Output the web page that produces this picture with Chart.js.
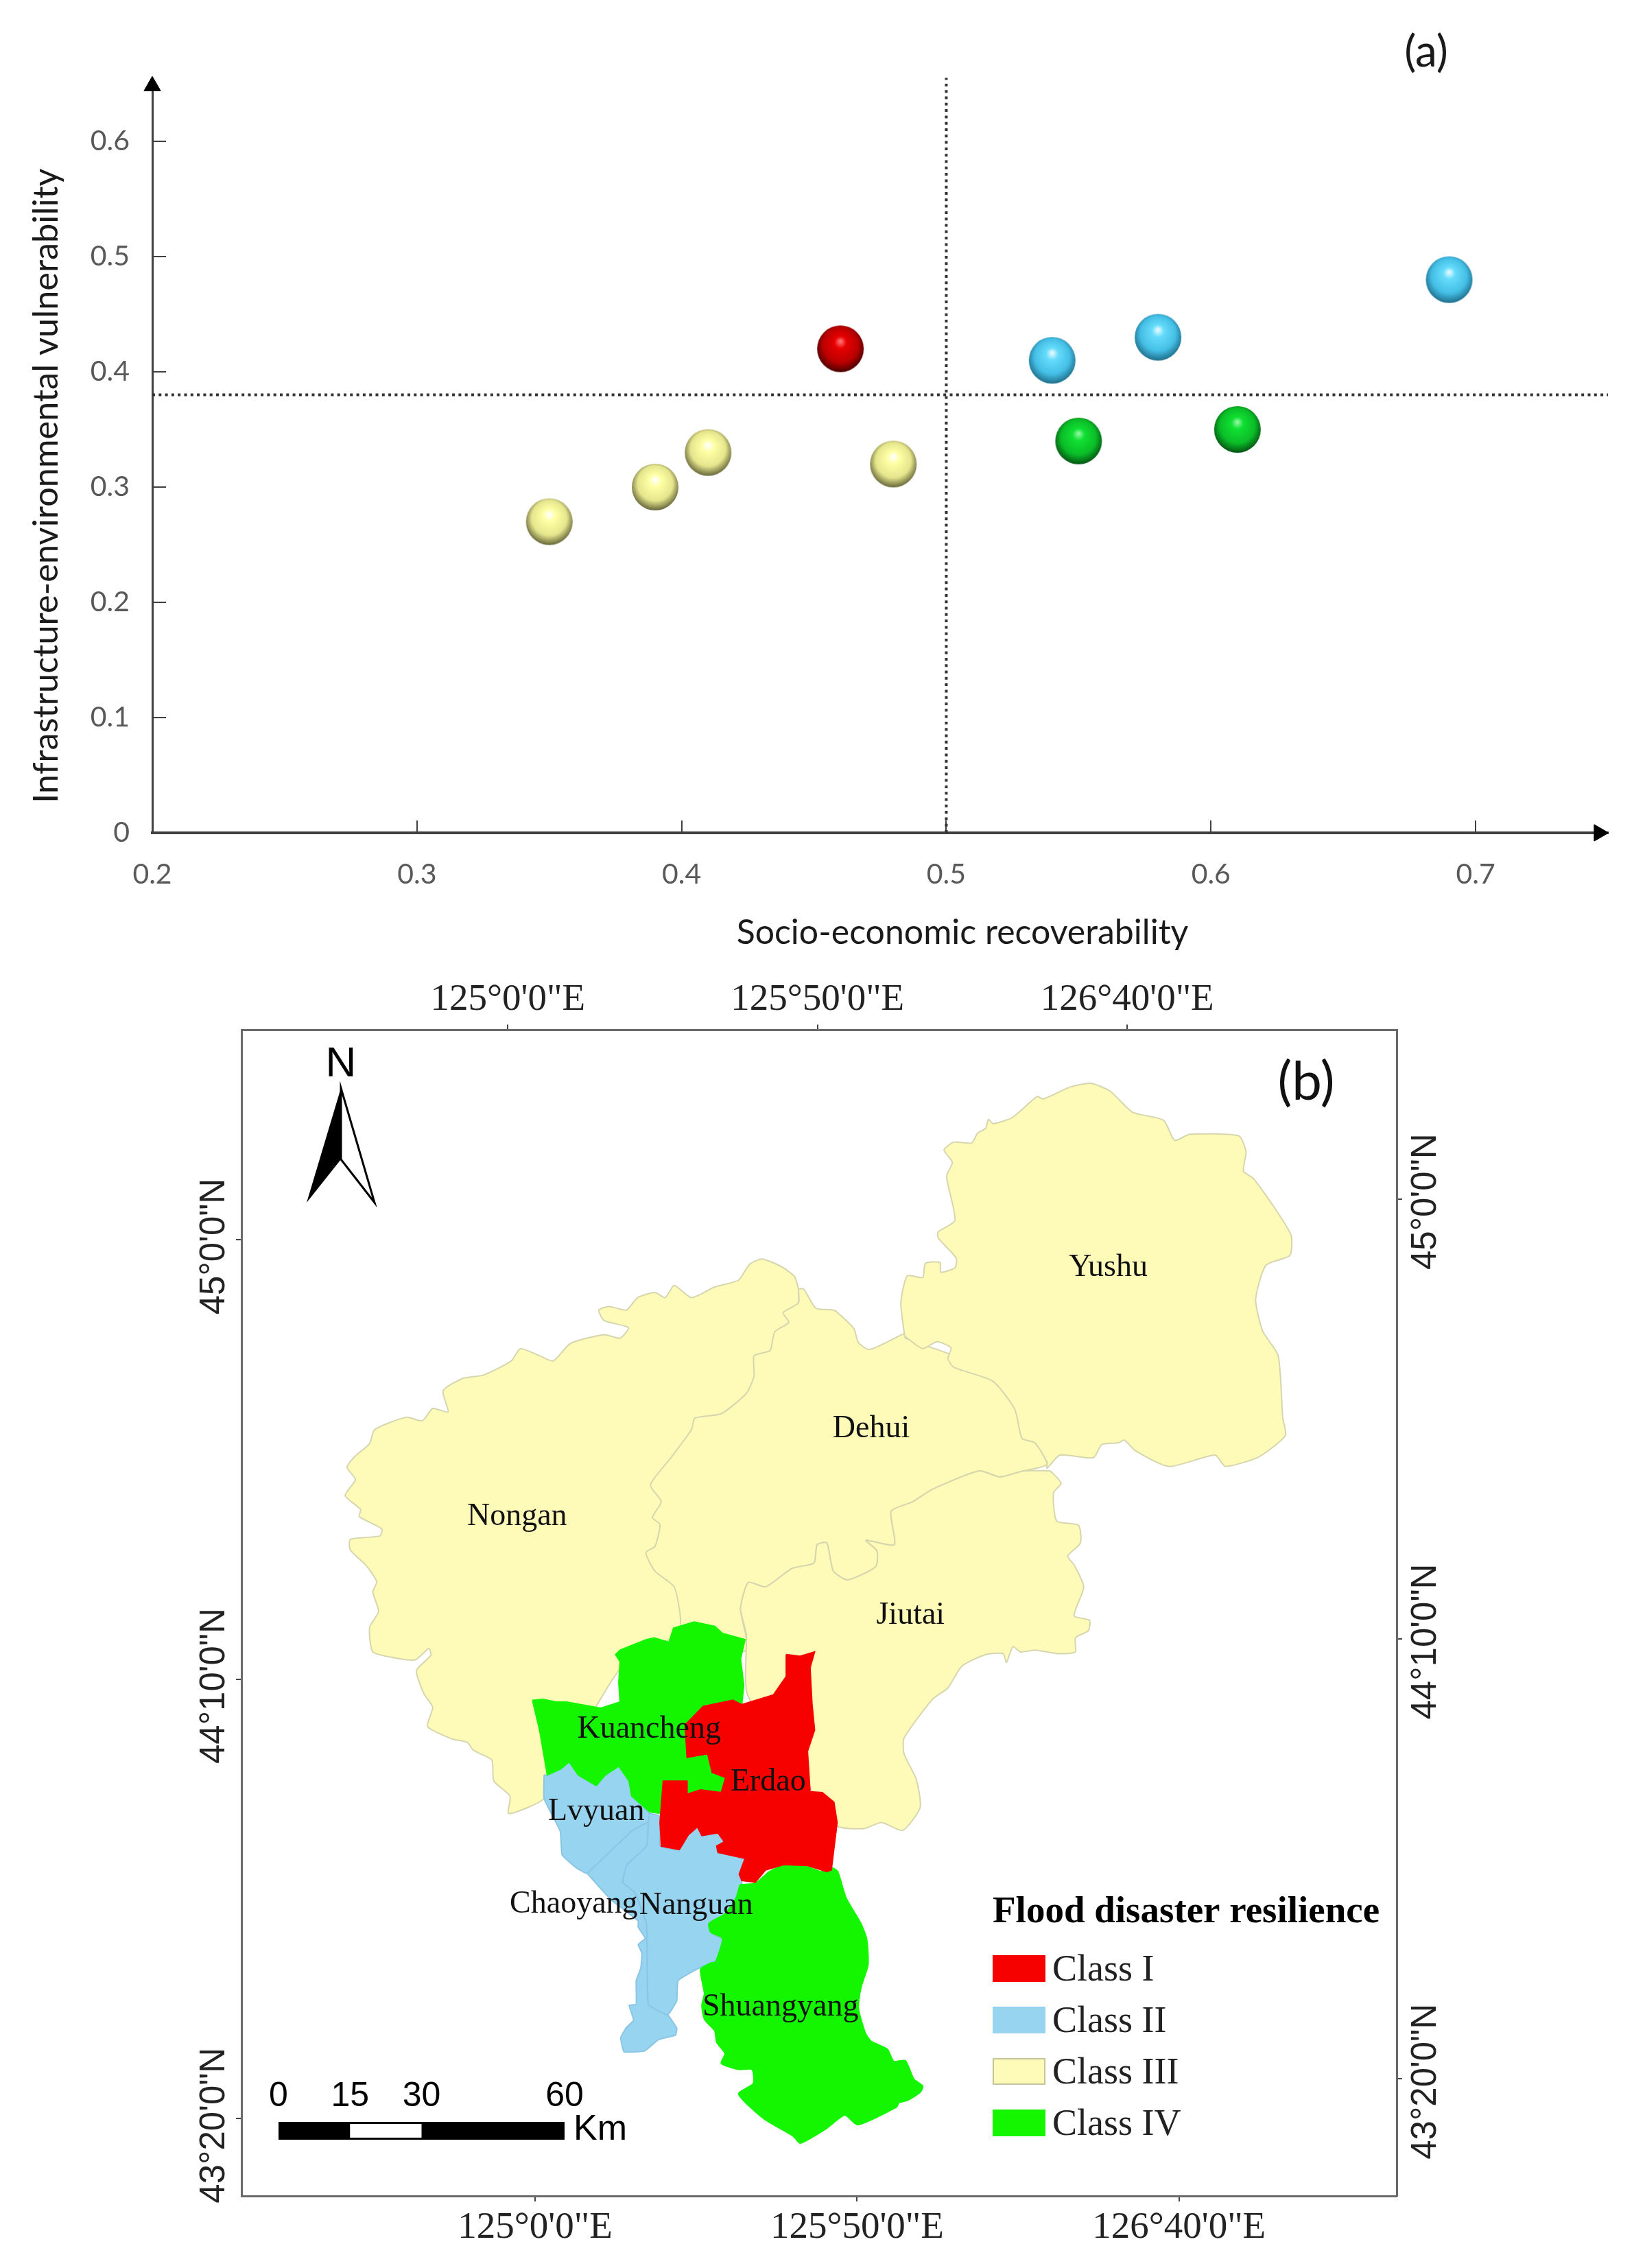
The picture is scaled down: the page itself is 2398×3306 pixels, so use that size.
<!DOCTYPE html>
<html>
<head>
<meta charset="utf-8">
<title>Flood disaster resilience</title>
<script src="https://cdn.jsdelivr.net/npm/chart.js@4"></script>
<style>
  html, body { margin: 0; padding: 0; background: #fff; }
  canvas { position: absolute; left: 0; display: block; }
  #scatter { top: 0; }
  #map { top: 1420px; }
</style>
</head>
<body>
<canvas id="scatter" width="2398" height="1420"></canvas>
<canvas id="map" width="2398" height="1886"></canvas>
<script>
// (a) districts by class: [recoverability, vulnerability]
const classOne = [[0.46, 0.42]];
const classTwo = [[0.54, 0.41], [0.58, 0.43], [0.69, 0.48]];
const classThree = [[0.35, 0.27], [0.39, 0.30], [0.41, 0.33], [0.48, 0.32]];
const classFour = [[0.55, 0.34], [0.61, 0.35]];
const xTicks = [0.2, 0.3, 0.4, 0.5, 0.6, 0.7];
const xTickLabels = ['0.2', '0.3', '0.4', '0.5', '0.6', '0.7'];
const yTicks = [0, 0.1, 0.2, 0.3, 0.4, 0.5, 0.6];
const yTickLabels = ['0', '0.1', '0.2', '0.3', '0.4', '0.5', '0.6'];
const splitX = 0.5;
const splitY = 0.38;

// (b) outlines: [arc minutes east of 125E, arc minutes from 45N]
const yushu = [[57.4,-11.0],[56.8,-7.2],[57.8,-4.1],[60.2,-4.3],[60.6,-2.7],[62.9,-2.6],[63.0,-3.7],[65.2,-3.2],[65.4,-2.1],[62.6,0.2],[62.6,0.9],[65.2,2.2],[63.9,7.2],[64.8,8.8],[63.5,10.2],[65.0,11.1],[67.8,11.0],[68.7,12.1],[70.0,12.7],[70.4,13.7],[71.1,13.2],[74.1,13.9],[78.0,16.3],[78.9,16.0],[83.2,17.4],[86.3,17.8],[89.3,16.9],[92.8,14.5],[97.6,13.6],[99.3,11.3],[101.7,12.0],[109.3,11.8],[110.4,10.0],[110.0,7.8],[111.5,7.0],[114.5,4.0],[117.4,0.5],[117.2,-1.8],[113.5,-2.9],[111.9,-6.8],[113.0,-10.4],[115.4,-13.2],[116.1,-20.2],[116.5,-22.3],[112.4,-24.7],[107.2,-25.8],[105.6,-24.5],[98.5,-25.8],[93.2,-24.0],[91.5,-22.8],[90.6,-23.1],[88.0,-23.3],[86.7,-24.8],[81.5,-24.5],[79.5,-26.0],[79.5,-25.3],[77.6,-23.1],[75.6,-22.6],[74.5,-19.3],[71.1,-16.1],[65.0,-14.5],[64.1,-13.5],[64.6,-12.3],[62.4,-11.6],[60.2,-12.4],[57.6,-11.1]];
const dehui = [[40.9,-5.6],[41.7,-5.6],[43.6,-7.8],[46.3,-8.0],[47.0,-8.3],[49.5,-10.1],[50.2,-11.7],[51.9,-12.5],[54.8,-11.6],[57.3,-10.7],[57.5,-11.2],[66.0,-13.5],[73.0,-17.0],[76.0,-21.0],[79.5,-25.5],[75.9,-26.3],[72.2,-27.0],[69.0,-26.3],[61.7,-28.4],[58.7,-29.8],[55.3,-30.9],[55.8,-34.7],[51.4,-34.2],[53.1,-35.4],[52.9,-37.2],[48.5,-38.7],[46.3,-37.7],[45.3,-34.5],[43.8,-34.7],[43.3,-36.8],[39.9,-37.4],[35.8,-39.5],[33.1,-39.0],[31.9,-42.0],[32.8,-46.7],[22.6,-46.7],[22.6,-43.1],[21.6,-39.5],[18.6,-37.7],[17.2,-35.6],[18.6,-34.9],[19.4,-32.4],[18.2,-31.6],[19.6,-29.8],[17.9,-27.9],[21.1,-24.8],[24.3,-21.6],[24.8,-20.3],[28.9,-19.8],[32.8,-17.5],[34.0,-15.5],[34.0,-13.2],[36.5,-12.6],[37.2,-10.5],[39.4,-9.4],[38.5,-8.3],[40.9,-7.2]];
const jiutai = [[80.0,-26.3],[81.7,-27.7],[80.5,-28.8],[81.0,-32.0],[84.4,-32.5],[84.7,-34.5],[82.7,-36.0],[83.7,-37.0],[85.2,-39.5],[83.7,-42.8],[86.1,-43.3],[85.9,-44.5],[83.9,-45.3],[83.9,-46.9],[81.2,-47.1],[77.8,-46.7],[75.4,-46.9],[74.2,-46.3],[73.2,-48.1],[72.7,-47.1],[70.0,-47.2],[66.3,-48.5],[64.1,-51.0],[61.7,-52.3],[57.3,-56.7],[57.3,-58.5],[59.2,-61.4],[59.8,-64.6],[57.1,-67.2],[53.8,-66.3],[51.1,-67.0],[46.9,-66.7],[42.3,-61.9],[33.0,-51.8],[32.8,-44.9],[31.9,-42.0],[33.1,-39.0],[35.8,-39.5],[39.9,-37.4],[43.3,-36.8],[43.8,-34.7],[45.3,-34.5],[46.3,-37.7],[48.5,-38.7],[52.9,-37.2],[53.1,-35.4],[51.4,-34.2],[55.8,-34.7],[55.3,-30.9],[58.7,-29.8],[61.7,-28.4],[69.0,-26.3],[72.2,-27.0],[75.9,-26.3]];
const nongan = [[40.9,-5.6],[40.3,-4.2],[38.1,-3.0],[35.2,-2.2],[33.3,-2.8],[31.6,-4.6],[27.8,-5.4],[24.3,-6.6],[21.6,-5.2],[20.2,-6.6],[18.6,-6.0],[15.9,-6.6],[14.2,-8.0],[11.5,-7.6],[9.9,-8.0],[10.7,-9.2],[14.5,-10.0],[13.2,-11.2],[10.7,-10.8],[5.5,-11.8],[2.8,-13.8],[0.7,-13.2],[-2.3,-12.4],[-3.7,-13.8],[-8.0,-15.4],[-11.3,-15.8],[-14.3,-17.2],[-13.5,-19.6],[-15.9,-19.2],[-17.5,-20.6],[-20.0,-20.2],[-24.9,-21.6],[-25.7,-23.2],[-27.9,-24.6],[-29.2,-25.9],[-27.9,-27.3],[-29.5,-29.1],[-27.1,-30.7],[-27.3,-31.5],[-23.8,-32.9],[-24.1,-33.7],[-28.7,-34.1],[-28.7,-35.3],[-26.2,-37.1],[-24.6,-38.9],[-25.2,-40.1],[-24.3,-42.3],[-25.7,-44.1],[-25.2,-46.9],[-21.6,-47.6],[-18.6,-47.8],[-16.5,-46.5],[-16.2,-47.3],[-18.4,-49.0],[-17.3,-51.6],[-15.9,-53.2],[-16.7,-55.4],[-12.9,-56.8],[-10.5,-57.2],[-9.7,-58.0],[-8.5,-58.5],[-6.7,-59.2],[-6.4,-61.6],[-3.9,-63.3],[-4.1,-65.3],[1.4,-63.6],[5.3,-58.5],[13.7,-48.4],[24.0,-44.0],[30.0,-35.0],[30.0,-25.0],[36.0,-15.0],[40.9,-7.2]];
const kuancheng = [[-0.4,-52.4],[1.2,-52.3],[3.3,-52.6],[4.9,-52.6],[10.2,-53.3],[13.2,-52.6],[13.0,-50.4],[13.2,-48.0],[12.5,-47.2],[13.2,-46.7],[17.3,-45.5],[18.5,-45.3],[20.8,-45.8],[21.5,-44.2],[24.7,-43.5],[27.9,-44.0],[29.1,-44.8],[32.6,-45.5],[31.9,-47.7],[32.4,-50.7],[32.1,-52.9],[30.7,-52.4],[26.1,-53.1],[23.3,-55.2],[23.6,-58.9],[26.8,-58.5],[27.5,-60.6],[29.6,-61.2],[28.9,-62.9],[25.7,-62.6],[23.6,-63.1],[23.6,-61.6],[19.9,-61.6],[19.6,-65.3],[17.8,-65.1],[15.0,-63.3],[14.6,-61.6],[13.0,-59.9],[10.9,-60.9],[9.5,-62.1],[6.7,-60.9],[5.3,-59.4],[4.0,-60.2],[1.9,-60.9],[0.7,-55.8]];
const erdao = [[39.0,-47.2],[41.1,-47.4],[43.4,-46.9],[42.7,-48.7],[43.0,-52.8],[43.4,-55.8],[42.3,-58.2],[42.7,-62.8],[44.6,-62.9],[46.4,-64.0],[46.9,-66.3],[46.0,-71.7],[45.3,-71.9],[42.3,-71.2],[38.6,-71.1],[35.8,-71.7],[34.2,-73.1],[32.1,-72.9],[31.7,-72.2],[32.6,-70.4],[28.4,-69.7],[28.2,-69.0],[29.4,-68.5],[28.4,-67.5],[25.9,-67.8],[25.2,-66.8],[23.8,-67.7],[22.4,-69.4],[19.6,-69.0],[19.4,-66.3],[19.9,-61.6],[23.6,-61.6],[23.6,-63.1],[25.7,-62.6],[28.9,-62.9],[29.6,-61.2],[27.5,-60.6],[26.8,-58.5],[23.6,-58.9],[23.3,-55.2],[26.1,-53.1],[30.7,-52.4],[32.1,-52.9],[37.0,-51.8],[39.0,-49.7]];
const shuangyang = [[31.8,-73.4],[34.3,-73.2],[36.2,-72.0],[38.7,-71.1],[41.5,-71.1],[44.4,-71.9],[46.2,-71.5],[47.0,-71.9],[48.3,-74.9],[50.6,-77.8],[51.5,-79.6],[51.7,-82.5],[50.6,-85.1],[50.2,-87.4],[51.3,-90.3],[52.2,-91.2],[54.7,-92.1],[55.7,-93.5],[57.5,-93.4],[58.8,-95.5],[60.2,-96.3],[59.8,-97.0],[57.9,-97.9],[56.5,-98.2],[56.1,-98.7],[50.1,-100.7],[48.1,-99.6],[45.1,-101.2],[41.2,-102.8],[40.1,-102.0],[35.5,-100.0],[31.6,-97.2],[33.9,-96.0],[33.7,-94.4],[31.6,-94.4],[28.9,-93.7],[29.5,-92.6],[28.2,-91.3],[27.9,-90.0],[26.3,-88.7],[25.9,-87.1],[26.3,-85.8],[25.7,-83.0],[27.3,-82.3],[28.0,-82.2],[29.1,-79.5],[27.3,-78.8],[27.0,-77.8],[29.5,-76.7],[31.2,-74.9]];
const lvyuan = [[1.4,-60.9],[1.9,-60.9],[4.0,-60.2],[5.3,-59.4],[6.7,-60.9],[9.5,-62.1],[10.9,-60.9],[13.0,-59.9],[14.6,-61.6],[15.0,-63.3],[17.8,-65.3],[17.6,-66.3],[15.0,-67.3],[8.1,-72.1],[6.3,-71.4],[4.2,-70.0],[3.9,-67.3],[1.4,-63.6]];
const chaoyang = [[8.1,-72.1],[15.0,-67.3],[17.6,-66.3],[17.3,-69.0],[14.3,-71.1],[13.6,-73.1],[15.5,-74.3],[17.3,-77.8],[17.6,-87.0],[20.6,-88.2],[22.0,-89.7],[21.8,-90.5],[19.2,-91.0],[17.0,-92.3],[13.8,-92.4],[13.3,-90.8],[14.1,-89.7],[15.3,-88.8],[14.6,-87.1],[15.7,-87.0],[15.7,-84.3],[16.4,-82.9],[16.6,-81.2],[16.0,-80.2],[17.1,-79.5],[16.0,-78.2],[16.0,-77.5],[11.8,-75.1]];
const nanguan = [[17.6,-66.3],[17.8,-65.3],[19.4,-65.6],[19.4,-69.0],[22.4,-69.4],[23.8,-67.7],[25.2,-66.8],[25.9,-67.8],[28.4,-67.5],[29.4,-68.5],[28.2,-69.0],[28.4,-69.7],[32.6,-70.4],[31.7,-72.2],[32.1,-73.1],[31.7,-76.5],[27.5,-77.7],[28.0,-79.2],[29.4,-79.5],[28.4,-81.9],[25.9,-82.7],[22.2,-84.3],[22.0,-86.6],[20.6,-88.2],[17.6,-87.0],[17.3,-77.8],[15.5,-74.3],[13.6,-73.1],[14.3,-71.1],[17.3,-69.0]];

const districtNames = ['Yushu', 'Dehui', 'Jiutai', 'Nongan', 'Kuancheng', 'Erdao', 'Lvyuan', 'Chaoyang', 'Nanguan', 'Shuangyang'];
const districtLon = [89.0, 52.2, 58.3, -2.8, 17.7, 36.2, 9.5, 6.0, 25.0, 38.1];
const districtLat = [-3.2, -21.5, -42.8, -31.5, -55.7, -61.7, -65.1, -75.6, -75.8, -87.3];

const lonTicks = [0, 50, 100];
const lonLabels = ['125°0\'0"E', '125°50\'0"E', '126°40\'0"E'];
const latTicks = [0, -50, -100];
const latLabels = ['45°0\'0"N', '44°10\'0"N', '43°20\'0"N'];
const legendTitle = 'Flood disaster resilience';
const legendNames = ['Class I', 'Class II', 'Class III', 'Class IV'];
const scaleKm = [0, 15, 30, 60];

const RED = '#f60000';
const BLUE = '#97d4f0';
const YELLOW = '#fefbb8';
const GREEN = '#14f600';
const legendColors = [RED, BLUE, YELLOW, GREEN];
const AXIS_GREY = '#595959';

function toPoints(pairs) {
  return pairs.map(([x, y]) => ({ x, y }));
}

// a shaded bead, used as the point image of the scatter
function makeBead(peak, light, mid, dark) {
  const size = 70;
  const bead = document.createElement('canvas');
  bead.width = size;
  bead.height = size;
  const c = bead.getContext('2d');
  const r = size / 2 - 1;
  const g = c.createRadialGradient(size / 2, size / 2 - 11, 1, size / 2, size / 2 - 3, r + 3);
  g.addColorStop(0, peak);
  g.addColorStop(0.22, light);
  g.addColorStop(0.68, mid);
  g.addColorStop(1, dark);
  c.fillStyle = g;
  c.beginPath();
  c.arc(size / 2, size / 2, r, 0, Math.PI * 2);
  c.fill();
  return bead;
}

function beadSet(pairs, peak, light, mid, dark) {
  return {
    data: toPoints(pairs),
    pointStyle: makeBead(peak, light, mid, dark),
    showLine: false,
  };
}

function placeTicks(values) {
  return (axis) => { axis.ticks = values.map((value) => ({ value })); };
}

const scatterText = {
  id: 'scatterText',
  afterDraw(chart) {
    const { ctx } = chart;
    ctx.save();
    ctx.fillStyle = '#1a1a1a';
    ctx.textAlign = 'center';
    ctx.textBaseline = 'middle';
    ctx.font = '50px Lato';
    ctx.fillText('Socio-economic recoverability', 1403, 1360);
    ctx.font = '64px Lato';
    ctx.fillText('(a)', 2079, 76);
    ctx.font = '50.5px Lato';
    ctx.translate(68, 708);
    ctx.rotate(-Math.PI / 2);
    ctx.fillText('Infrastructure-environmental vulnerability', 0, 0);
    ctx.restore();
  },
};

new Chart(document.getElementById('scatter'), {
  type: 'scatter',
  data: {
    datasets: [
      beadSet(classOne, '#ff7070', '#e80000', '#bb0000', '#4a0000'),
      beadSet(classTwo, '#e2faff', '#66dcfb', '#45bfe6', '#1f6f8c'),
      beadSet(classThree, '#ffffff', '#ffffa6', '#e6e68e', '#67673a'),
      beadSet(classFour, '#8cf7a0', '#10e032', '#0bbd28', '#045512'),
      {
        data: [{ x: 0.2, y: 0.648 }],
        pointStyle: 'triangle',
        pointRadius: 14,
        backgroundColor: '#000',
        borderColor: '#000',
        clip: false,
      },
      {
        data: [{ x: 0.7466, y: 0 }],
        pointStyle: 'triangle',
        rotation: 90,
        pointRadius: 14,
        backgroundColor: '#000',
        borderColor: '#000',
        clip: false,
      },
      {
        data: [{ x: splitX, y: 0 }, { x: splitX, y: 0.655 }],
        showLine: true,
        pointRadius: 0,
        borderColor: '#333',
        borderWidth: 4,
        borderDash: [4, 5.3],
        clip: false,
      },
      {
        data: [{ x: 0.2, y: splitY }, { x: 0.75, y: splitY }],
        showLine: true,
        pointRadius: 0,
        borderColor: '#333',
        borderWidth: 4,
        borderDash: [4, 5.3],
        clip: false,
      },
    ],
  },
  options: {
    responsive: false,
    animation: false,
    devicePixelRatio: 1,
    layout: { padding: { top: 122, right: 54, left: 0, bottom: 0 } },
    elements: { point: { radius: 33, hoverRadius: 33 } },
    plugins: { legend: { display: false }, tooltip: { enabled: false } },
    scales: {
      x: {
        type: 'linear',
        min: 0.2,
        max: 0.75,
        afterBuildTicks: placeTicks(xTicks),
        afterFit: (axis) => { axis.height = 206; },
        border: { color: '#404040', width: 4 },
        grid: { drawOnChartArea: false, tickLength: -18, tickColor: '#404040', lineWidth: 2 },
        ticks: {
          autoSkip: false,
          maxRotation: 0,
          padding: 54,
          color: AXIS_GREY,
          font: { family: 'Lato', size: 41 },
          callback: (v) => xTickLabels[xTicks.indexOf(v)],
        },
      },
      y: {
        type: 'linear',
        min: 0,
        max: 0.65,
        afterBuildTicks: placeTicks(yTicks),
        afterFit: (axis) => { axis.width = 222; },
        border: { color: '#404040', width: 3 },
        grid: { drawOnChartArea: false, tickLength: -20, tickColor: '#404040', lineWidth: 2 },
        ticks: {
          autoSkip: false,
          padding: 53,
          color: AXIS_GREY,
          font: { family: 'Lato', size: 41 },
          callback: (v) => yTickLabels[yTicks.indexOf(v)],
        },
      },
    },
  },
  plugins: [scatterText],
});

function region(pairs, fill, edge, tension) {
  const points = toPoints(pairs);
  points.push(points[0]);
  return {
    data: points,
    showLine: true,
    fill: 'shape',
    backgroundColor: fill,
    borderColor: edge,
    borderWidth: 2,
    tension,
    pointRadius: 0,
  };
}

function frameAxis(position, min, max, values, labels) {
  const horizontal = position === 'top' || position === 'bottom';
  return {
    type: 'linear',
    position,
    axis: horizontal ? 'x' : 'y',
    min,
    max,
    afterBuildTicks: placeTicks(values),
    border: { color: '#6a6a6a', width: 3 },
    grid: { drawOnChartArea: false, tickLength: 8, tickColor: '#444', lineWidth: 2 },
    ticks: {
      display: horizontal,
      autoSkip: false,
      maxRotation: 0,
      padding: position === 'top' ? 3 : 6,
      color: '#222',
      font: { family: 'Liberation Serif', size: 55 },
      callback: (v) => labels[values.indexOf(v)],
    },
  };
}

function northArrow(ctx) {
  ctx.font = '62px "Liberation Sans"';
  ctx.fillStyle = '#000';
  ctx.fillText('N', 497, 132);
  ctx.beginPath();
  ctx.moveTo(497, 166);
  ctx.lineTo(447, 333);
  ctx.lineTo(497, 270);
  ctx.closePath();
  ctx.fill();
  ctx.beginPath();
  ctx.moveTo(497, 166);
  ctx.lineTo(546, 333);
  ctx.lineTo(497, 270);
  ctx.closePath();
  ctx.fillStyle = '#fff';
  ctx.fill();
  ctx.strokeStyle = '#000';
  ctx.lineWidth = 3;
  ctx.stroke();
}

function scaleBar(ctx) {
  const barLeft = 406;
  const perKm = 6.95;
  const at = (km) => barLeft + km * perKm;
  ctx.fillStyle = '#000';
  ctx.fillRect(at(0), 1673, at(60) - at(0), 26);
  ctx.fillStyle = '#fff';
  ctx.fillRect(at(15), 1676, at(30) - at(15), 20);
  ctx.fillStyle = '#000';
  ctx.font = '50px "Liberation Sans"';
  scaleKm.forEach((km) => ctx.fillText(String(km), at(km), 1636));
  ctx.font = '52px "Liberation Sans"';
  ctx.fillText('Km', 875, 1685);
}

function mapLegend(ctx) {
  ctx.textAlign = 'left';
  ctx.fillStyle = '#000';
  ctx.font = 'bold 55px "Liberation Serif"';
  ctx.fillText(legendTitle, 1447, 1368);
  ctx.font = '54px "Liberation Serif"';
  legendNames.forEach((name, i) => {
    const y = 1431 + i * 75;
    ctx.fillStyle = legendColors[i];
    ctx.fillRect(1448, y, 75, 37);
    ctx.strokeStyle = i === 2 ? '#c4c49a' : legendColors[i];
    ctx.lineWidth = 2;
    ctx.strokeRect(1448, y, 75, 37);
    ctx.fillStyle = '#222';
    ctx.fillText(name, 1534, y + 22);
  });
}

const mapText = {
  id: 'mapText',
  afterDatasetsDraw(chart) {
    const { ctx, scales } = chart;
    ctx.save();
    ctx.textAlign = 'center';
    ctx.textBaseline = 'middle';
    ctx.fillStyle = '#111';
    ctx.font = '46px "Liberation Serif"';
    districtNames.forEach((name, i) => {
      ctx.fillText(name, scales.x.getPixelForValue(districtLon[i]), scales.y.getPixelForValue(districtLat[i]));
    });
    ctx.fillStyle = '#222';
    ctx.font = '51px "Liberation Sans"';
    [[scales.y, 313, 10], [scales.yr, 2079, 4]].forEach(([axis, x, shift]) => {
      latTicks.forEach((value, i) => {
        ctx.save();
        ctx.translate(x, axis.getPixelForValue(value) + shift);
        ctx.rotate(-Math.PI / 2);
        ctx.fillText(latLabels[i], 0, 0);
        ctx.restore();
      });
    });
    ctx.fillStyle = '#111';
    ctx.font = '78px Lato';
    ctx.fillText('(b)', 1904, 158);
    northArrow(ctx);
    scaleBar(ctx);
    mapLegend(ctx);
    ctx.restore();
  },
};

const xAxis = frameAxis('bottom', -45.6, 133.8, lonTicks, lonLabels);
xAxis.afterFit = (axis) => { axis.height = 105; };
const topAxis = frameAxis('top', -43.0, 143.5, lonTicks, lonLabels);
topAxis.afterFit = (axis) => { axis.height = 81.5; };
const yAxis = frameAxis('left', -108.8, 23.85, latTicks, latLabels);
yAxis.afterFit = (axis) => { axis.width = 352; };
const rightAxis = frameAxis('right', -113.3, 19.2, latTicks, latLabels);
rightAxis.afterFit = (axis) => { axis.width = 362; };

const YELLOW_EDGE = '#d6d6ae';
const BLUE_EDGE = '#8ac6e4';

new Chart(document.getElementById('map'), {
  type: 'scatter',
  data: {
    datasets: [
      region(erdao, RED, RED, 0),
      region(kuancheng, GREEN, GREEN, 0),
      region(shuangyang, GREEN, GREEN, 0.2),
      region(nanguan, BLUE, BLUE_EDGE, 0.1),
      region(chaoyang, BLUE, BLUE_EDGE, 0.1),
      region(lvyuan, BLUE, BLUE_EDGE, 0.1),
      region(yushu, YELLOW, YELLOW_EDGE, 0.2),
      region(jiutai, YELLOW, YELLOW_EDGE, 0.2),
      region(dehui, YELLOW, YELLOW_EDGE, 0.2),
      region(nongan, YELLOW, YELLOW_EDGE, 0.2),
    ],
  },
  options: {
    responsive: false,
    animation: false,
    devicePixelRatio: 1,
    plugins: { legend: { display: false }, tooltip: { enabled: false } },
    scales: { x: xAxis, x2: topAxis, y: yAxis, yr: rightAxis },
  },
  plugins: [mapText],
});
</script>
</body>
</html>
